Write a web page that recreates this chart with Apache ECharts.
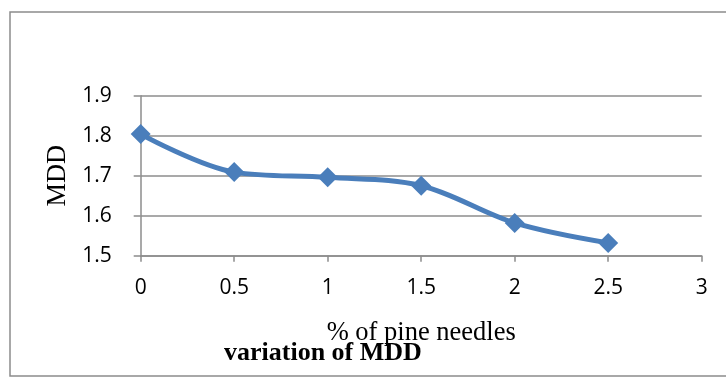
<!DOCTYPE html>
<html>
<head>
<meta charset="utf-8">
<script src="https://cdn.jsdelivr.net/npm/echarts@6/dist/echarts.min.js"></script>
<style>
  html, body { margin: 0; padding: 0; background: #fff; }
  #chart { width: 726px; height: 377px; }
</style>
</head>
<body>
<div id="chart"></div>
<script>
// Percentage of pine needles added and the measured MDD
const pineNeedles = [0, 0.5, 1, 1.5, 2, 2.5];
const mddValues = [1.804, 1.709, 1.696, 1.675, 1.582, 1.532];

const xTicks = { min: 0, max: 3, interval: 0.5 };
const yTicks = { min: 1.5, max: 1.9, interval: 0.1 };

const chartTitle = 'variation of MDD';
const xName = '% of pine needles';
const yName = 'MDD';

const lineColor = '#4A7EBB';
const gridColor = '#8C8C8C';
const labelFont = 'Open Sans';
const serifFont = 'Liberation Serif';

const chart = echarts.init(document.getElementById('chart'), null, { renderer: 'canvas' });

chart.setOption({
  animation: false,
  backgroundColor: '#fff',
  graphic: [{
    type: 'rect',
    shape: { x: 10, y: 12, width: 740, height: 364 },
    style: { fill: 'none', stroke: '#8C8C8C', lineWidth: 1.5 },
    z: -1
  }],
  title: {
    text: chartTitle,
    left: 224,
    top: 340,
    padding: 0,
    textStyle: { fontFamily: serifFont, fontWeight: 'bold', fontSize: 26, color: '#000' }
  },
  grid: { left: 140.7, right: 24.3, top: 95.7, bottom: 121.3, containLabel: false },
  xAxis: {
    type: 'value',
    min: xTicks.min, max: xTicks.max, interval: xTicks.interval,
    name: xName,
    nameLocation: 'middle',
    nameGap: 64,
    nameTextStyle: { fontFamily: serifFont, fontSize: 26.5, color: '#000' },
    axisLine: { show: true, onZero: false, lineStyle: { color: gridColor, width: 1.5 } },
    axisTick: { show: true, length: 6, lineStyle: { color: gridColor, width: 1.5 } },
    axisLabel: { margin: 22, fontFamily: labelFont, fontSize: 21, color: '#000' },
    splitLine: { show: false }
  },
  yAxis: {
    type: 'value',
    min: yTicks.min, max: yTicks.max, interval: yTicks.interval,
    name: yName,
    nameLocation: 'middle',
    nameGap: 66,
    nameTextStyle: { fontFamily: serifFont, fontSize: 26.5, color: '#000' },
    axisLine: { show: true, lineStyle: { color: gridColor, width: 1.5 } },
    axisTick: { show: true, length: 7, lineStyle: { color: gridColor, width: 1.5 } },
    axisLabel: {
      margin: 29, fontFamily: labelFont, fontSize: 21, color: '#000',
      formatter: v => v.toFixed(1)
    },
    splitLine: { show: true, lineStyle: { color: gridColor, width: 1.5 } }
  },
  series: [{
    type: 'line',
    data: pineNeedles.map((x, i) => [x, mddValues[i]]),
    smooth: 0.35,
    symbol: 'diamond',
    symbolSize: 20,
    lineStyle: { color: lineColor, width: 5 },
    itemStyle: { color: lineColor },
    z: 3
  }]
});
</script>
</body>
</html>
